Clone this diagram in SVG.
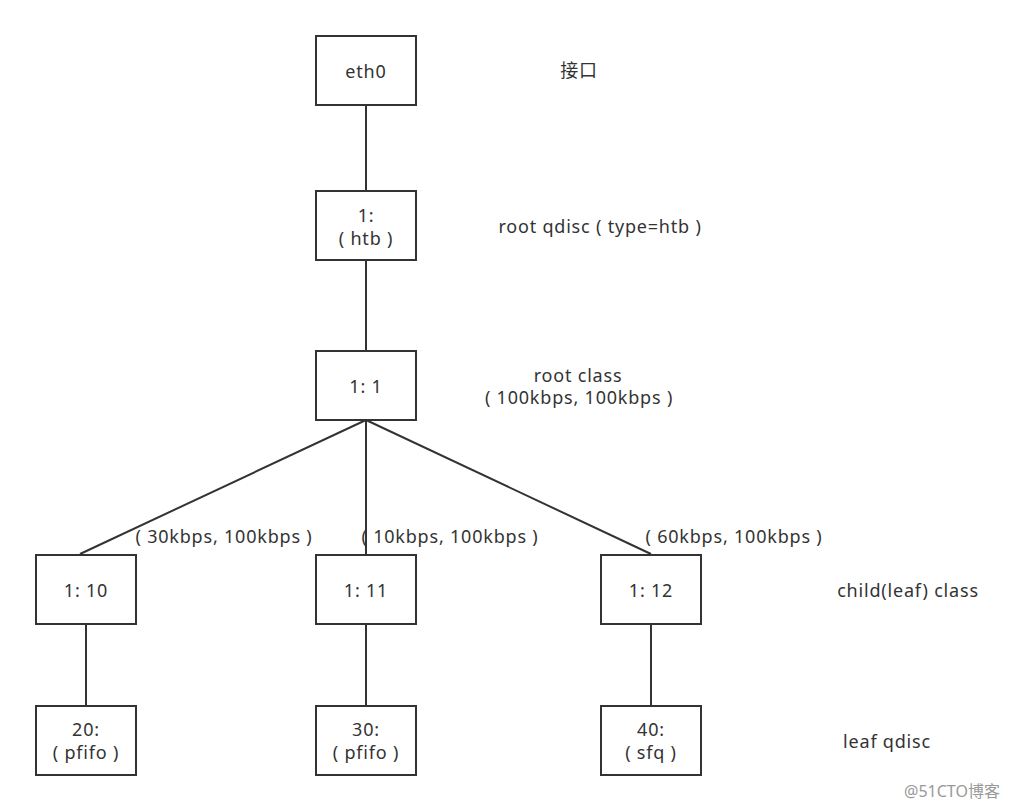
<svg xmlns="http://www.w3.org/2000/svg" width="1011" height="809" viewBox="0 0 1011 809">
<style>
.box{fill:#fff;stroke:#333;stroke-width:2}
.ln{stroke:#333;stroke-width:2;fill:none}
text{font-family:"Noto Sans","Noto Sans CJK SC",sans-serif;font-size:18px;letter-spacing:0.8px;fill:#333;text-anchor:middle;dominant-baseline:central}
.wm{font-size:16px;letter-spacing:0;fill:#999}
</style>
<rect width="1011" height="809" fill="#fff"/>
<g id="connectors">
<line class="ln" x1="366" y1="105" x2="366" y2="191"/>
<line class="ln" x1="366" y1="260" x2="366" y2="351"/>
<line class="ln" x1="366" y1="420" x2="80" y2="554"/>
<line class="ln" x1="366" y1="420" x2="366" y2="555"/>
<line class="ln" x1="366" y1="420" x2="651" y2="554"/>
<line class="ln" x1="86" y1="624" x2="86" y2="706"/>
<line class="ln" x1="366" y1="624" x2="366" y2="706"/>
<line class="ln" x1="651" y1="624" x2="651" y2="706"/>
</g>
<g id="eth0"><rect class="box" x="316" y="36" width="100" height="69"/><text x="366" y="71">eth0</text></g>
<g id="root-qdisc"><rect class="box" x="316" y="191" width="100" height="69"/><text x="366" y="215">1:</text><text x="366" y="238">( htb )</text></g>
<g id="root-class"><rect class="box" x="316" y="351" width="100" height="69"/><text x="366" y="386">1: 1</text></g>
<g id="c10"><rect class="box" x="36" y="555" width="100" height="69"/><text x="86" y="590">1: 10</text></g>
<g id="c11"><rect class="box" x="316" y="555" width="100" height="69"/><text x="366" y="590">1: 11</text></g>
<g id="c12"><rect class="box" x="601" y="555" width="100" height="69"/><text x="651" y="590">1: 12</text></g>
<g id="q20"><rect class="box" x="36" y="706" width="100" height="69"/><text x="86" y="729">20:</text><text x="86" y="752">( pfifo )</text></g>
<g id="q30"><rect class="box" x="316" y="706" width="100" height="69"/><text x="366" y="729">30:</text><text x="366" y="752">( pfifo )</text></g>
<g id="q40"><rect class="box" x="601" y="706" width="100" height="69"/><text x="651" y="729">40:</text><text x="651" y="752">( sfq )</text></g>
<g id="labels">
<text x="579" y="70">接口</text>
<text x="600" y="226">root qdisc ( type=htb )</text>
<text x="578" y="375">root class</text>
<text x="579" y="397">( 100kbps, 100kbps )</text>
<text x="224" y="536">( 30kbps, 100kbps )</text>
<text x="450" y="536">( 10kbps, 100kbps )</text>
<text x="734" y="536">( 60kbps, 100kbps )</text>
<text x="908" y="590">child(leaf) class</text>
<text x="887" y="741">leaf qdisc</text>
<text class="wm" x="952" y="791">@51CTO博客</text>
</g>
</svg>
